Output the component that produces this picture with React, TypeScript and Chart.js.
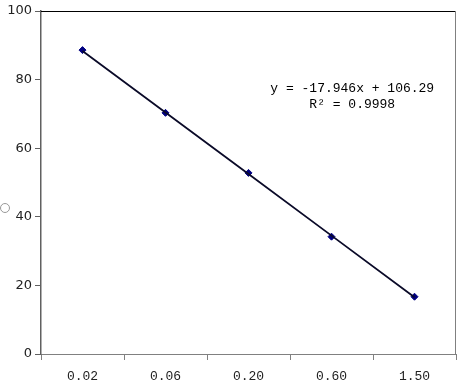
import React, { useEffect, useRef } from "react";
import { Chart, registerables } from "chart.js";

Chart.register(...registerables);

const categories = ["0.02", "0.06", "0.20", "0.60", "1.50"];
const measured = [88.6, 70.3, 52.8, 34.2, 16.7];
const trendline = [88.34, 70.4, 52.45, 34.51, 16.56];
const equationLines = ["y = -17.946x + 106.29", "R² = 0.9998"];
const yTicks = [0, 20, 40, 60, 80, 100];

const framePlugin = {
  id: "frame",
  afterDraw(chart: any) {
    const { ctx, chartArea } = chart;
    ctx.save();
    ctx.lineWidth = 1;
    ctx.strokeStyle = "#000000";
    ctx.beginPath();
    ctx.moveTo(chartArea.left, chartArea.top + 0.5);
    ctx.lineTo(chartArea.right, chartArea.top + 0.5);
    ctx.stroke();
    ctx.strokeStyle = "#808080";
    ctx.beginPath();
    ctx.moveTo(chartArea.right - 0.5, chartArea.top);
    ctx.lineTo(chartArea.right - 0.5, chartArea.bottom);
    ctx.stroke();
    // equation label
    const xs = chart.scales.x;
    const ys = chart.scales.y;
    const cx = xs.getPixelForValue(3) + (xs.getPixelForValue(4) - xs.getPixelForValue(3)) * 0.25;
    ctx.fillStyle = "#000000";
    ctx.font = "13px 'Liberation Mono', monospace";
    ctx.textAlign = "center";
    ctx.textBaseline = "middle";
    ctx.fillText(equationLines[0], cx, ys.getPixelForValue(77.3));
    ctx.fillText(equationLines[1], cx, ys.getPixelForValue(72.6));
    ctx.restore();
  },
};

export default function App() {
  const ref = useRef<HTMLCanvasElement>(null);
  useEffect(() => {
    document.body.style.margin = "0";
    const chart = new Chart(ref.current!, {
      type: "line",
      data: {
        labels: categories,
        datasets: [
          {
            label: "trend",
            data: trendline,
            borderColor: "#0a0a28",
            borderWidth: 1.8,
            pointRadius: 0,
            fill: false,
          },
          {
            label: "measured",
            data: measured,
            showLine: false,
            borderColor: "#000080",
            backgroundColor: "#000080",
            pointStyle: "rectRot",
            pointRadius: 3.5,
            pointBorderWidth: 1,
          },
        ],
      },
      options: {
        animation: false,
        responsive: false,
        maintainAspectRatio: false,
        layout: { padding: { left: 0, top: 11, right: 13, bottom: 0 } },
        plugins: { legend: { display: false }, tooltip: { enabled: false } },
        scales: {
          x: {
            type: "category",
            offset: true,
            grid: {
              offset: true,
              drawOnChartArea: false,
              tickLength: 6,
              color: "#808080",
            },
            border: { color: "#808080", width: 1 },
            ticks: {
              color: "#222222",
              font: { family: "'Liberation Mono', monospace", size: 13 },
              padding: 9,
              maxRotation: 0,
            },
            afterFit(scale: any) {
              scale.height = 37;
            },
          },
          y: {
            min: 0,
            max: 100,
            afterBuildTicks(scale: any) {
              scale.ticks = yTicks.map((v) => ({ value: v }));
            },
            grid: {
              drawOnChartArea: false,
              tickLength: 6,
              color: "#606060",
            },
            border: { color: "#606060", width: 1.5 },
            ticks: {
              color: "#222222",
              font: { family: "'DejaVu Sans', sans-serif", size: 13 },
              padding: 3,
            },
            afterFit(scale: any) {
              scale.width = 41;
            },
          },
        },
      },
      plugins: [framePlugin],
    });
    return () => chart.destroy();
  }, []);
  return (
    <div style={{ position: "relative", width: 469, height: 391, background: "#ffffff" }}>
      <canvas ref={ref} width={469} height={391} style={{ display: "block" }} />
      <div
        style={{
          position: "absolute",
          left: 0,
          top: 203,
          width: 10,
          height: 10,
          borderRadius: "50%",
          border: "1px solid #999999",
          boxSizing: "border-box",
          background: "#ffffff",
        }}
      />
    </div>
  );
}
